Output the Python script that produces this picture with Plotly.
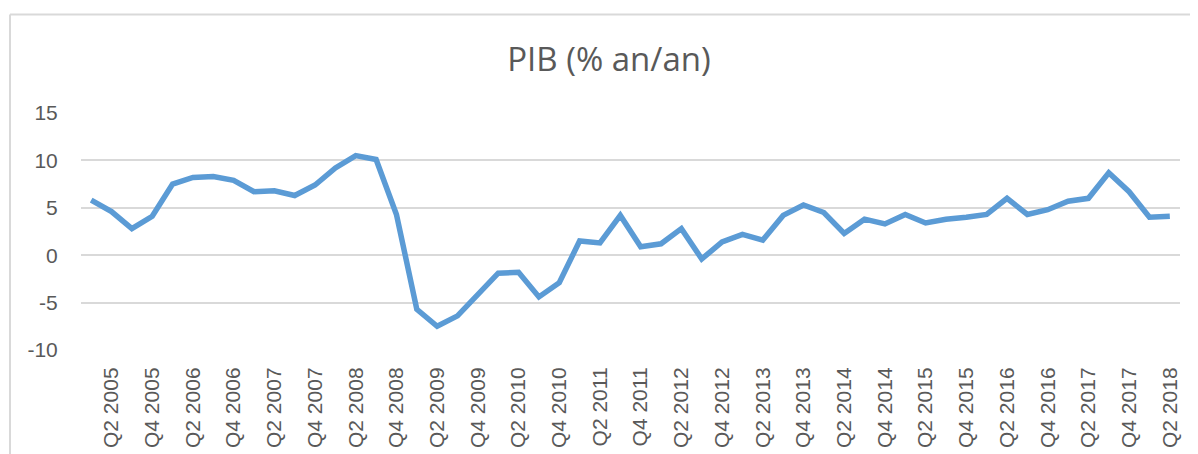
import plotly.graph_objects as go

# Quarterly GDP growth, % year on year
QUARTERS = [
    "Q1 2005", "Q2 2005", "Q3 2005", "Q4 2005",
    "Q1 2006", "Q2 2006", "Q3 2006", "Q4 2006",
    "Q1 2007", "Q2 2007", "Q3 2007", "Q4 2007",
    "Q1 2008", "Q2 2008", "Q3 2008", "Q4 2008",
    "Q1 2009", "Q2 2009", "Q3 2009", "Q4 2009",
    "Q1 2010", "Q2 2010", "Q3 2010", "Q4 2010",
    "Q1 2011", "Q2 2011", "Q3 2011", "Q4 2011",
    "Q1 2012", "Q2 2012", "Q3 2012", "Q4 2012",
    "Q1 2013", "Q2 2013", "Q3 2013", "Q4 2013",
    "Q1 2014", "Q2 2014", "Q3 2014", "Q4 2014",
    "Q1 2015", "Q2 2015", "Q3 2015", "Q4 2015",
    "Q1 2016", "Q2 2016", "Q3 2016", "Q4 2016",
    "Q1 2017", "Q2 2017", "Q3 2017", "Q4 2017",
    "Q1 2018", "Q2 2018",
]
PIB = [
    5.8, 4.6, 2.8, 4.1,
    7.5, 8.2, 8.3, 7.9,
    6.7, 6.8, 6.3, 7.4,
    9.2, 10.5, 10.1, 4.3,
    -5.7, -7.5, -6.4, -4.1,
    -1.9, -1.8, -4.4, -2.9,
    1.5, 1.3, 4.2, 0.9,
    1.2, 2.8, -0.4, 1.4,
    2.2, 1.6, 4.2, 5.3,
    4.5, 2.3, 3.8, 3.3,
    4.3, 3.4, 3.8, 4.0,
    4.3, 6.0, 4.3, 4.8,
    5.7, 6.0, 8.7, 6.7,
    4.0, 4.1,
]
TICK_LABELS = QUARTERS[1::2]
Y_TICKS = [-10, -5, 0, 5, 10, 15]
Y_TICK_TEXT = ["-10", "-5", "0", "5", "10", "15"]

TEXT = "#595959"
GRID = "#d9d9d9"
LINE = "#5b9bd5"

fig = go.Figure()
fig.add_trace(go.Scatter(
    x=QUARTERS, y=PIB, mode="lines",
    line=dict(color=LINE, width=5.5), showlegend=False,
))

# chart-area frame (only left and top edges visible in the crop)
frame = dict(type="line", xref="paper", yref="paper",
             line=dict(color=GRID, width=2), layer="below")
fig.add_shape(x0=-0.0646, x1=-0.0646, y0=1.416, y1=-0.45, **frame)
fig.add_shape(x0=-0.0646, x1=1.03, y0=1.416, y1=1.416, **frame)

# page body adds an 8px margin, so the figure is 8px smaller each way
fig.update_layout(
    width=1190, height=446,
    margin=dict(l=73, r=18, t=105, b=104),
    paper_bgcolor="white", plot_bgcolor="white",
    title=dict(text="PIB (% an/an)", x=601 / 1190, xanchor="center",
               y=1 - 51 / 446, yanchor="middle",
               font=dict(family="Open Sans", size=33, color=TEXT)),
    xaxis=dict(
        type="category", range=[-0.5, len(QUARTERS) - 0.5],
        tickmode="array", tickvals=TICK_LABELS, ticktext=TICK_LABELS,
        tickangle=-90, ticks="outside", ticklen=8, automargin=False,
        tickcolor="rgba(0,0,0,0)", showgrid=False, showline=False,
        tickfont=dict(family="Liberation Sans", size=21, color=TEXT),
    ),
    yaxis=dict(
        range=[-10, 15], tickvals=Y_TICKS, ticktext=Y_TICK_TEXT,
        showgrid=True, automargin=False,
        gridcolor=GRID, gridwidth=2, zeroline=False, showline=False,
        ticks="outside", ticklen=18, tickcolor="rgba(0,0,0,0)",
        tickfont=dict(family="Liberation Sans", size=21, color=TEXT),
    ),
)

fig.write_html("out.html")
